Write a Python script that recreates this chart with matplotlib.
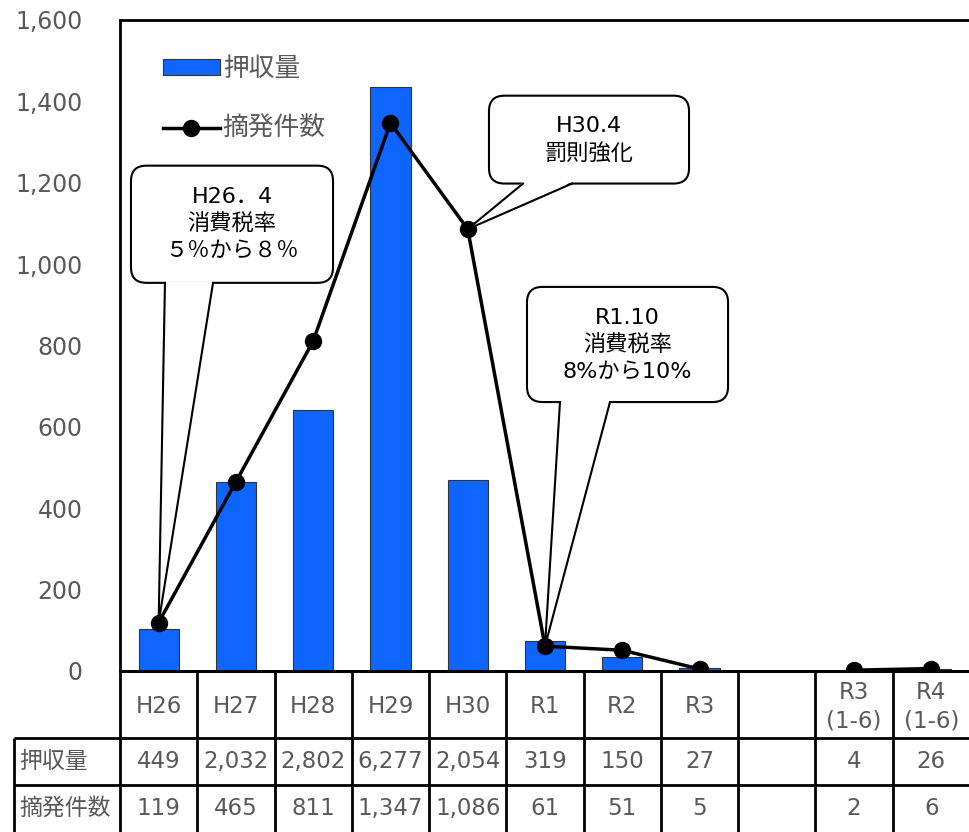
import numpy as np
import matplotlib
matplotlib.use("Agg")
import matplotlib.pyplot as plt
from matplotlib.patches import FancyBboxPatch, Polygon, Patch
from matplotlib.lines import Line2D
from matplotlib.transforms import blended_transform_factory
from matplotlib.ticker import FuncFormatter

plt.rcParams['font.family'] = ['DejaVu Sans', 'Noto Sans CJK JP']

# 年度別データ (空欄の列は None)
years = ['H26', 'H27', 'H28', 'H29', 'H30', 'R1', 'R2', 'R3', '', 'R3\n(1-6)', 'R4\n(1-6)']
seized = [449, 2032, 2802, 6277, 2054, 319, 150, 27, None, 4, 26]
cases = [119, 465, 811, 1347, 1086, 61, 51, 5, None, 2, 6]
row_names = ['押収量', '摘発件数']

GRAY = '#595959'
BLUE = '#0E66FF'
FS = 16.5

fig = plt.figure(figsize=(9.7, 8.32), dpi=100)
ax2 = fig.add_axes([120 / 970, 161 / 832, 850 / 970, 651 / 832])  # 押収量 (棒)
ax = ax2.twinx()                                                 # 摘発件数 (折れ線)
ax.set_zorder(ax2.get_zorder() + 1)
ax.patch.set_visible(False)

x = np.arange(len(years))

# 棒グラフ
bx = [i for i, v in zip(x, seized) if v is not None]
bv = [v for v in seized if v is not None]
bars = ax2.bar(bx, bv, width=0.52, color=BLUE, edgecolor='#333333', linewidth=0.8)
ax2.set_ylim(0, 7000)
ax2.set_xlim(-0.5, len(years) - 0.5)
ax2.tick_params(left=False, labelleft=False, right=False, labelright=False,
                bottom=False, labelbottom=False)
for s in ['left', 'top', 'bottom']:
    ax2.spines[s].set_linewidth(2)
ax2.spines['right'].set_visible(False)

# 折れ線グラフ
cv = np.array([np.nan if v is None else v for v in cases], dtype=float)
line, = ax.plot(x, cv, color='black', lw=2.5, marker='o', markersize=11.5, zorder=5)
ax.set_ylim(0, 1600)
ax.set_yticks(range(0, 1601, 200))
ax.yaxis.set_major_formatter(FuncFormatter(lambda v, p: f'{int(v):,}'))
ax.yaxis.set_ticks_position('left')
ax.tick_params(axis='y', length=0, pad=27, labelsize=17, labelcolor=GRAY)
ax.tick_params(axis='x', bottom=False, labelbottom=False)
for s in ax.spines.values():
    s.set_visible(False)

# 凡例
handles = [Patch(facecolor=BLUE, edgecolor='#333333', linewidth=0.8),
           Line2D([], [], color='black', lw=2.5, marker='o', markersize=11.5)]
leg = ax.legend(handles, row_names, loc='upper left',
                bbox_to_anchor=(163 / 970, 1 - 56 / 832), bbox_transform=fig.transFigure,
                frameon=False, fontsize=18.5, handlelength=2.2, handleheight=0.55,
                handletextpad=0.12, labelspacing=1.32, borderpad=0, borderaxespad=0)
for t in leg.get_texts():
    t.set_color(GRAY)

# データ表
tr = blended_transform_factory(ax.transData, ax.transAxes)
h_px = 651
y_head = -67 / h_px
y_row1 = -114 / h_px
y_row2 = -161 / h_px
col_w = 850 / len(years)
x_lab = -0.5 - 106 / col_w
x_end = len(years) - 0.5

kw = dict(color='black', lw=2, transform=tr, clip_on=False, solid_capstyle='butt')
ax.add_line(Line2D([-0.5, x_end], [0, 0], **kw))
ax.add_line(Line2D([x_lab, x_end], [y_head, y_head], **kw))
ax.add_line(Line2D([x_lab, x_end], [y_row1, y_row1], **kw))
ax.add_line(Line2D([x_lab, x_lab], [y_head, y_row2], **kw))
for k in range(len(years)):
    ax.add_line(Line2D([k - 0.5, k - 0.5], [0, y_row2], **kw))

tkw = dict(transform=tr, ha='center', va='center', fontsize=FS, color=GRAY, clip_on=False)
for i, lab in enumerate(years):
    ax.text(i, y_head / 2 - 0.003, lab, linespacing=1.3, **tkw)
    if seized[i] is not None:
        ax.text(i, (y_head + y_row1) / 2, f'{seized[i]:,}', **tkw)
    if cases[i] is not None:
        ax.text(i, (y_row1 + y_row2) / 2, f'{cases[i]:,}', **tkw)
for yy, name in zip([(y_head + y_row1) / 2, (y_row1 + y_row2) / 2], row_names):
    ax.text(x_lab + 0.07, yy, name, transform=tr, ha='left', va='center',
            fontsize=FS, color=GRAY, clip_on=False)


# 吹き出し
def callout(x0, x1, y0, y1, b0, b1, tip, text):
    aspect = (1600 / 651) / (11 / 850)
    box = FancyBboxPatch((x0, y0), x1 - x0, y1 - y0,
                         boxstyle='round,pad=0,rounding_size=0.2',
                         mutation_aspect=aspect, facecolor='white',
                         edgecolor='black', lw=1.5, zorder=6)
    ax.add_patch(box)
    eps = 4
    ax.add_patch(Polygon([(b0, y0 + eps), tip, (b1, y0 + eps)], closed=True,
                         facecolor='white', edgecolor='none', zorder=7))
    ax.add_line(Line2D([b0, tip[0], b1], [y0, tip[1], y0], color='black',
                       lw=1.5, zorder=7))
    ax.text((x0 + x1) / 2, (y0 + y1) / 2, text, ha='center', va='center',
            fontsize=16, color='black', linespacing=1.38, zorder=8)


callout(-0.358, 2.257, 954, 1242, 0.082, 0.704, (0, cases[0]),
        'H26．4\n消費税率\n５％から８％')
callout(4.275, 6.864, 1198, 1414, 4.715, 5.35, (4, cases[4]),
        'H30.4\n罰則強化')
callout(4.767, 7.369, 661, 944, 5.194, 5.841, (5, cases[5]),
        'R1.10\n消費税率\n8%から10%')

fig.savefig('out.png', dpi=100)
